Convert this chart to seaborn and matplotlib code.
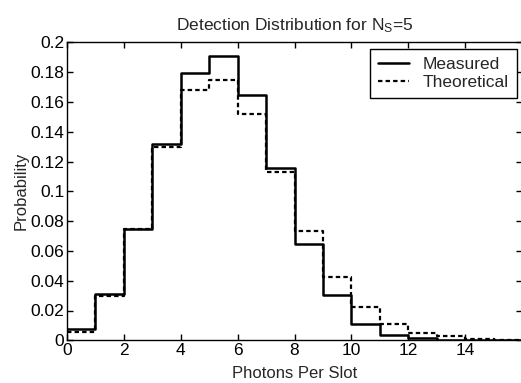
import numpy as np
import pandas as pd
import matplotlib
matplotlib.use("Agg")
import matplotlib.pyplot as plt
import seaborn as sns

photons = list(range(16))
measured = [0.0076, 0.0309, 0.0747, 0.1318, 0.1796, 0.1908, 0.1645, 0.1156,
            0.0644, 0.0304, 0.0109, 0.0034, 0.0015, 0.0005, 0.0002, 0.0001]
theoretical = [0.0058, 0.0297, 0.0747, 0.1297, 0.1680, 0.1750, 0.1520, 0.1129,
               0.0734, 0.0427, 0.0223, 0.0109, 0.0049, 0.0031, 0.0010, 0.0005]
xticks = [0, 2, 4, 6, 8, 10, 12, 14]
yticks = [0, 0.02, 0.04, 0.06, 0.08, 0.1, 0.12, 0.14, 0.16, 0.18, 0.2]
ytick_labels = ["0", "0.02", "0.04", "0.06", "0.08", "0.1", "0.12", "0.14", "0.16", "0.18", "0.2"]

sns.set_style("ticks")
plt.rcParams["font.family"] = ["Liberation Sans", "DejaVu Sans"]
plt.rcParams["mathtext.fontset"] = "custom"
plt.rcParams["mathtext.rm"] = "Liberation Sans"
plt.rcParams["mathtext.it"] = "Liberation Sans"

fig = plt.figure(figsize=(5.21, 3.83), dpi=100)
ax = fig.add_axes([67 / 521, 1 - 340.3 / 383, (522 - 67) / 521, (340.3 - 42.3) / 383])

# step edges: each bin [k, k+1]; repeat last value at the right edge
edges = photons + [photons[-1] + 1]
df_m = pd.DataFrame({"x": edges, "y": measured + [measured[-1]]})
df_t = pd.DataFrame({"x": edges, "y": theoretical + [theoretical[-1]]})

sns.lineplot(data=df_m, x="x", y="y", drawstyle="steps-post", color="black",
             linewidth=1.8, label="Measured", ax=ax)
sns.lineplot(data=df_t, x="x", y="y", drawstyle="steps-post", color="black",
             linewidth=1.6, linestyle=(0, (2.0, 1.4)), label="Theoretical", ax=ax)

ax.set_xlim(0, 16)
ax.set_ylim(0, 0.2)
ax.set_xticks(xticks)
ax.set_yticks(yticks)
ax.set_yticklabels(ytick_labels)
ax.tick_params(direction="in", top=True, right=True, labelsize=12.5, length=4,
               width=1, colors="black", pad=2)
for s in ax.spines.values():
    s.set_visible(True)
    s.set_color("black")
    s.set_linewidth(1.0)
ax.set_xlabel("Photons Per Slot", fontsize=12, labelpad=6)
ax.set_ylabel("Probability", fontsize=12, labelpad=1)
ax.set_title(r"Detection Distribution for N$_\mathrm{S}$=5", fontsize=12.5, pad=9)

leg = ax.legend(loc="upper right", fontsize=12.5, frameon=True, fancybox=False,
                edgecolor="black", framealpha=1, handlelength=1.8,
                borderpad=0.45, labelspacing=0.15, handletextpad=0.8,
                borderaxespad=0.0, bbox_to_anchor=(0.989, 0.9775))
leg.get_frame().set_linewidth(1.0)

fig.savefig("out.png", dpi=100)
